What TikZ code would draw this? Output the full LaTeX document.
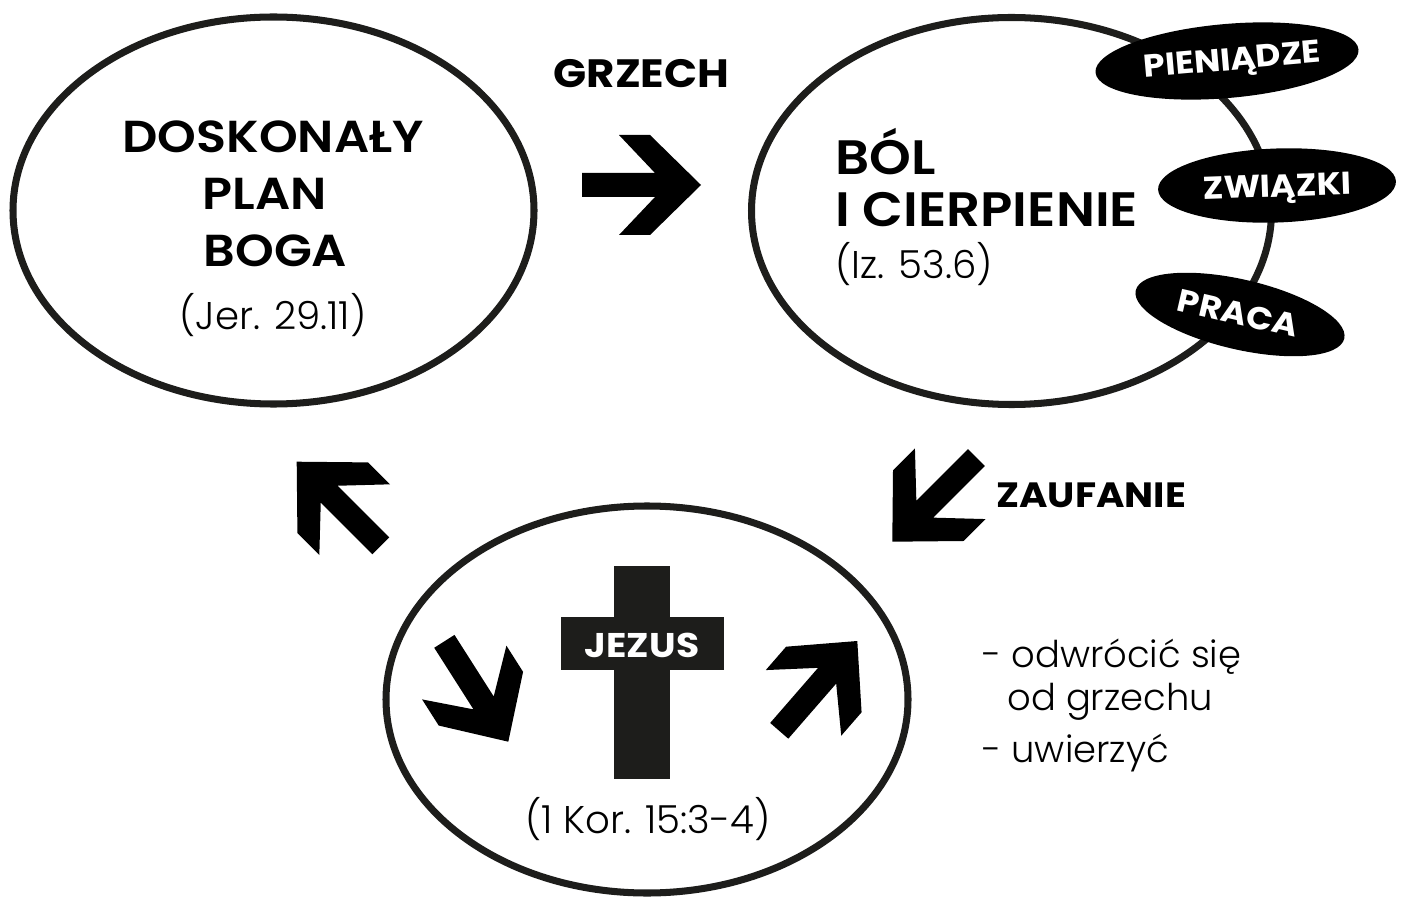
\documentclass[tikz,border=0pt]{standalone}
\usepackage{fontspec}
\setmainfont{Poppins}
\newfontfamily\popsemi{Poppins SemiBold}[FakeStretch=1.1]
\newfontfamily\popbold{Poppins Bold}[FakeStretch=1.1]
\newfontfamily\poplight{Poppins Light}
\usepackage{tikz}
\usetikzlibrary{positioning}
\definecolor{ink}{RGB}{29,29,27}

% thick chevron arrow, tip at #1, turned by #2 degrees
\newcommand{\chevron}[2]{%
  \fill[arrowfill, shift={#1}, rotate=#2]
    (-119,-12) -- (-46,-12) -- (-82,-50) -- (-51,-50) -- (0,0)
    -- (-51,50) -- (-82,50) -- (-46,12) -- (-119,12) -- cycle;}

\tikzset{
  bigoval/.style={draw=ink, line width=4pt},
  tagoval/.style={fill=black},
  arrowfill/.style={fill=black},
  crossbar/.style={fill=ink},
  txt/.style={inner sep=0pt, anchor=base},
  headtxt/.style={txt, font=\popsemi\fontsize{25.5}{30}\selectfont},
  paintxt/.style={txt, anchor=base west, font=\popsemi\fontsize{27.5}{32}\selectfont},
  boldtxt/.style={txt, font=\popbold\fontsize{22.5}{27}\selectfont},
  reftxt/.style={txt, font=\poplight\fontsize{22}{26}\selectfont},
  steptxt/.style={txt, anchor=base west, font=\poplight\fontsize{21}{25}\selectfont},
  tagtxt/.style={txt, text=white, font=\popbold\fontsize{18}{22}\selectfont},
}

\begin{document}
\begin{tikzpicture}[x=0.02cm, y=-0.02cm]
            \useasboundingbox (0,0) rectangle (1406,898);
            % Left oval (plan)
            \draw[bigoval] (273.5,210.5) ellipse [x radius=260.5, y radius=193.5];
            \node[headtxt] (doskonaly) at (273,153) {DOSKONAŁY};
            \node[headtxt] (plan) at (265,210) {PLAN};
            \node[headtxt] (boga) at (275.5,267) {BOGA};
            \node[reftxt] (jer) at (273,330) {(Jer. 29.11)};
            % Right oval (pain)
            \draw[bigoval] (1011.5,211) ellipse [x radius=260, y radius=193.5];
            \node[paintxt] (bol) at (835,175) {BÓL};
            \node[paintxt] (cierpienie) at (835,227) {I CIERPIENIE};
            \node[reftxt, anchor=base west] (iz) at (835,279) {(Iz. 53.6)};
            % Tags on the right oval
            \fill[tagoval, rotate around={5:(1227,61)}] (1227,61) ellipse [x radius=132, y radius=37];
            \fill[tagoval, rotate around={2:(1277,185.5)}] (1277,185.5) ellipse [x radius=119, y radius=37];
            \fill[tagoval, rotate around={-13:(1240,314.5)}] (1240,314.5) ellipse [x radius=107, y radius=35];
            \node[tagtxt, rotate=5] (money) at (1233,70) {PIENIĄDZE};
            \node[tagtxt, rotate=2] (bonds) at (1277.5,197) {ZWIĄZKI};
            \node[tagtxt, rotate=-13] (work) at (1235.5,324) {PRACA};
            % Bottom oval (cross)
            \draw[bigoval] (647,699.5) ellipse [x radius=261, y radius=193.5];
            \fill[crossbar] (614,566) rectangle (670,779);
            \fill[crossbar] (561,617) rectangle (724,670);
            \node[txt, text=white, font=\popbold\fontsize{19.5}{23}\selectfont] (jezus) at (642,657) {JEZUS};
            \node[reftxt] (kor) at (648,833) {(1 Kor. 15:3-4)};
            % Arrows
            \node[boldtxt] (grzech) at (641.5,88) {GRZECH};
            \chevron{(701,185)}{0}
            \chevron{(892.3,541.7)}{-135}
            \node[boldtxt, anchor=base west, font=\popbold\fontsize{20}{24}\selectfont] (zaufanie) at (996,507) {ZAUFANIE};
            \chevron{(296.7,461.7)}{135}
            \chevron{(508.3,741.7)}{-57.5}
            \chevron{(857.3,641)}{49}
            % Steps
            \node[steptxt] (turn) at (982,667) {- odwrócić się};
            \node[steptxt] (sin) at (1007,710) {od grzechu};
            \node[steptxt] (believe) at (982,762) {- uwierzyć};
        \end{tikzpicture}
\end{document}
